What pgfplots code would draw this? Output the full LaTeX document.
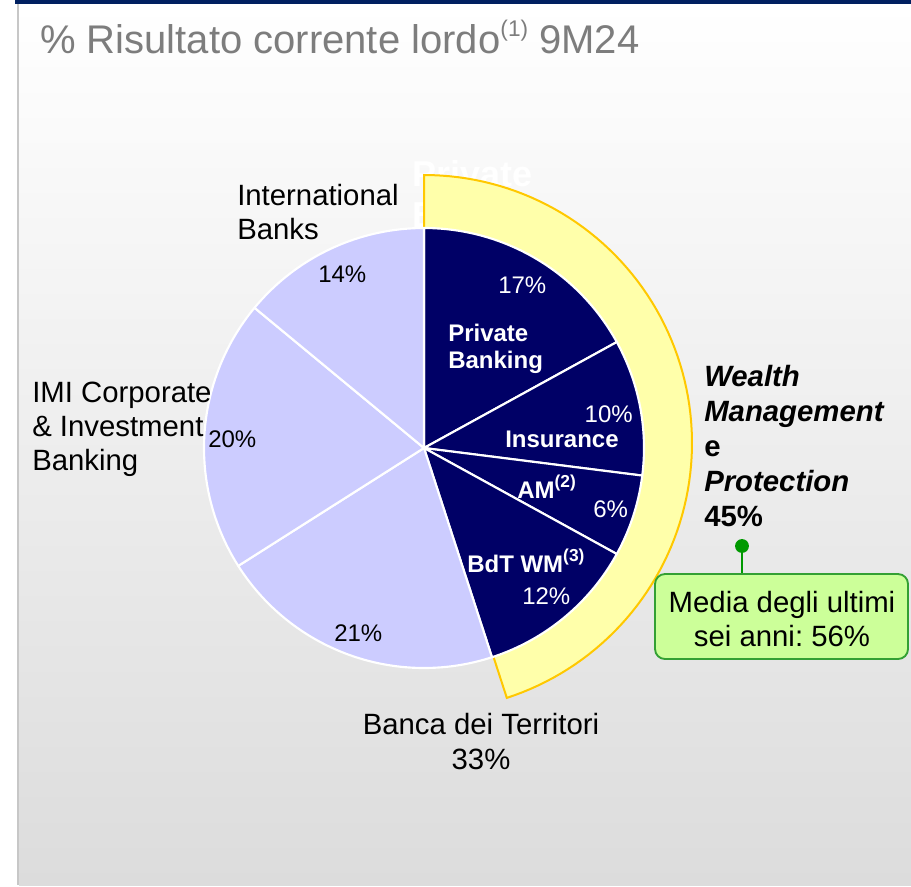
\documentclass[border=0pt]{standalone}
\usepackage{fontspec}
\setmainfont{Liberation Sans}
\usepackage{pgfplots}
\pgfplotsset{compat=1.18}
\usepackage{pgfplotstable}
\frenchspacing

\definecolor{navyseg}{RGB}{0,0,102}
\definecolor{lavseg}{RGB}{204,204,255}
\definecolor{bandfill}{RGB}{255,255,170}
\definecolor{bandedge}{RGB}{255,200,0}
\definecolor{boxfill}{RGB}{204,255,153}
\definecolor{boxedge}{RGB}{51,160,51}
\definecolor{dotgreen}{RGB}{0,153,0}
\definecolor{titlegray}{RGB}{125,125,125}
\definecolor{topline}{RGB}{0,32,96}
\definecolor{bgbottom}{RGB}{220,220,220}

% share of "Risultato corrente lordo" 9M24, clockwise from 12 o'clock
\pgfplotstableread{
seg value wm
PB 17 1
Ins 10 1
AM 6 1
BdTWM 12 1
BdT 21 0
IMI 20 0
IB 14 0
}\pietable

% pie centre and radius in pixel units (y grows downwards)
\def\cx{424}\def\cy{448}\def\rr{220}
% band around the Wealth Management part
\def\bx{424}\def\by{443}\def\br{268}

\newcommand\lbl{\fontsize{22}{26}\selectfont}
\newcommand\pct{\fontsize{18}{21}\selectfont}
\newcommand\blbl{\fontsize{18}{21}\selectfont\bfseries}
\newcommand\sups[1]{\raisebox{0.42em}{\fontsize{13}{15}\selectfont #1}}

\newcommand\slice[3]{%
  \pgfmathsetmacro\sa{90-3.6*#1}%
  \pgfmathsetmacro\ea{90-3.6*(#1+#2)}%
  \edef\doslice{\noexpand\addplot[fill=#3,draw=white,line width=1.6pt,line join=round,domain=\ea:\sa,samples=90]
    ({\cx+\rr*cos(x)},{\cy-\rr*sin(x)}) -- (\cx,\cy) -- cycle;}%
  \doslice}

\begin{document}
\begin{tikzpicture}
\begin{axis}[
    scale only axis,
    width=683.25pt, height=663.75pt,
    xmin=0, xmax=911, ymin=0, ymax=885,
    y dir=reverse,
    hide axis, clip=false,
]
% background
\fill[white] (0,0) rectangle (911,885);
\shade[top color=white, bottom color=bgbottom] (19,4) rectangle (911,885);
\fill[topline] (15,0) rectangle (911,4);
\draw[black!22, line width=1.5pt] (18,4) -- (18,885);

\node[anchor=base west, inner sep=0, text=titlegray, font=\fontsize{30}{34}\selectfont]
  at (40,53) {\% Risultato corrente lordo{\fontsize{17}{20}\selectfont\raisebox{0.75em}{(1)}} 9M24};

% hidden label behind the band
\node[anchor=base west, inner sep=0, text=white, font=\fontsize{27}{30}\selectfont\bfseries] at (412,186) {Private};
\node[anchor=base west, inner sep=0, text=white, font=\fontsize{27}{30}\selectfont\bfseries] at (412,227) {Banking};

% Wealth Management band
\def\wmsum{0}
\pgfplotsforeachungrouped \i in {0,...,6}{%
  \pgfplotstablegetelem{\i}{value}\of\pietable\let\val\pgfplotsretval
  \pgfplotstablegetelem{\i}{wm}\of\pietable
  \ifnum\pgfplotsretval=1 \pgfmathsetmacro\wmsum{\wmsum+\val}\fi
}
\pgfmathsetmacro\wmend{90-3.6*\wmsum}
\edef\doband{\noexpand\addplot[fill=bandfill,draw=bandedge,line width=1.5pt,domain=\wmend:90,samples=90]
  ({\bx+\br*cos(x)},{\by-\br*sin(x)}) -- (\bx,\by) -- cycle;}
\doband

% pie
\def\cum{0}
\pgfplotsforeachungrouped \i in {0,...,6}{%
  \pgfplotstablegetelem{\i}{value}\of\pietable\let\val\pgfplotsretval
  \pgfplotstablegetelem{\i}{wm}\of\pietable
  \ifnum\pgfplotsretval=1 \def\col{navyseg}\else\def\col{lavseg}\fi
  \slice{\cum}{\val}{\col}%
  \pgfmathsetmacro\cum{\cum+\val}%
}

% outer labels
\node[anchor=base west, inner sep=0, font=\lbl] at (237,205) {International};
\node[anchor=base west, inner sep=0, font=\lbl] at (237,239) {Banks};
\node[anchor=base west, inner sep=0, font=\lbl] at (32,402) {IMI Corporate};
\node[anchor=base west, inner sep=0, font=\lbl] at (32,436) {\& Investment};
\node[anchor=base west, inner sep=0, font=\lbl] at (32,470) {Banking};
\node[anchor=base, inner sep=0, font=\lbl] at (481,734) {Banca dei Territori};
\node[anchor=base, inner sep=0, font=\lbl] at (481,769) {33\%};

% values in the light part
\node[anchor=base west, inner sep=0, font=\pct] at (318,282) {14\%};
\node[anchor=base west, inner sep=0, font=\pct] at (208,447) {20\%};
\node[anchor=base west, inner sep=0, font=\pct] at (334,641) {21\%};

% values in the dark part
\node[anchor=base west, inner sep=0, font=\pct, text=white] at (498,293) {17\%};
\node[anchor=base west, inner sep=0, font=\blbl, text=white] at (448,341) {Private};
\node[anchor=base west, inner sep=0, font=\blbl, text=white] at (448,368) {Banking};
\node[anchor=base east, inner sep=0, font=\pct, text=white] at (633,422) {10\%};
\node[anchor=base west, inner sep=0, font=\blbl, text=white] at (505,447) {Insurance};
\node[anchor=base west, inner sep=0, font=\blbl, text=white] at (517,498) {AM\sups{(2)}};
\node[anchor=base west, inner sep=0, font=\pct, text=white] at (593,517) {6\%};
\node[anchor=base west, inner sep=0, font=\blbl, text=white] at (467,572) {BdT WM\sups{(3)}};
\node[anchor=base west, inner sep=0, font=\pct, text=white] at (522,604) {12\%};

% Wealth Management e Protection
\node[anchor=base west, inner sep=0, font=\lbl\bfseries\itshape] at (704,386) {Wealth};
\node[anchor=base west, inner sep=0, font=\lbl\bfseries\itshape] at (704,421) {Management};
\node[anchor=base west, inner sep=0, font=\lbl\bfseries] at (704,456) {e};
\node[anchor=base west, inner sep=0, font=\lbl\bfseries\itshape] at (704,491) {Protection};
\node[anchor=base west, inner sep=0, font=\lbl\bfseries] at (704,526) {45\%};

% callout
\draw[dotgreen, line width=2pt] (742,546) -- (742,575);
\fill[dotgreen] (742,546) circle[radius=5.2pt];
\draw[boxedge, fill=boxfill, line width=1.4pt, rounded corners=7.5pt] (655,574) rectangle (908,659);
\node[anchor=base, inner sep=0, font=\lbl] at (782,612) {Media degli ultimi};
\node[anchor=base, inner sep=0, font=\lbl] at (782,646) {sei anni: 56\%};
\end{axis}
\end{tikzpicture}
\end{document}
